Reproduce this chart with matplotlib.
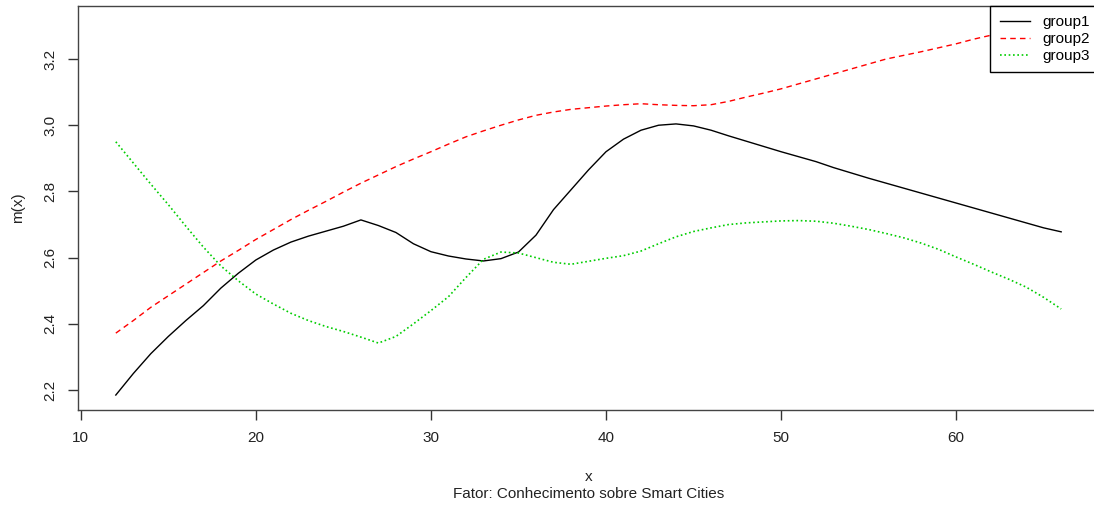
import matplotlib
matplotlib.use("Agg")
import matplotlib.pyplot as plt

plt.rcParams['font.family'] = ['Liberation Sans', 'DejaVu Sans']

# smoothed curves, one point per unit of x
x = list(range(12, 67))

group1 = [2.185, 2.25, 2.31, 2.362, 2.41, 2.455, 2.508, 2.553, 2.593, 2.623,
          2.647, 2.665, 2.68, 2.695, 2.714, 2.697, 2.676, 2.642, 2.618, 2.605,
          2.596, 2.59, 2.597, 2.617, 2.668, 2.745, 2.805, 2.865, 2.92, 2.958,
          2.985, 3.0, 3.004, 2.998, 2.985, 2.968, 2.952, 2.936, 2.92, 2.905,
          2.89, 2.872, 2.856, 2.84, 2.825, 2.81, 2.795, 2.78, 2.765, 2.75,
          2.735, 2.72, 2.705, 2.69, 2.678]

group2 = [2.372, 2.41, 2.45, 2.485, 2.52, 2.555, 2.59, 2.622, 2.655, 2.685,
          2.715, 2.743, 2.77, 2.798, 2.825, 2.85, 2.875, 2.898, 2.92, 2.943,
          2.965, 2.983, 3.0, 3.016, 3.03, 3.04, 3.048, 3.053, 3.058, 3.062,
          3.065, 3.062, 3.06, 3.059, 3.062, 3.072, 3.085, 3.097, 3.11, 3.125,
          3.14, 3.155, 3.17, 3.185, 3.2, 3.211, 3.222, 3.234, 3.246, 3.26,
          3.272, 3.284, 3.295, 3.305, 3.315]

group3 = [2.95, 2.886, 2.822, 2.76, 2.695, 2.632, 2.575, 2.53, 2.49, 2.46,
          2.432, 2.41, 2.392, 2.377, 2.36, 2.342, 2.362, 2.40, 2.44, 2.482,
          2.54, 2.595, 2.617, 2.614, 2.60, 2.586, 2.58, 2.589, 2.598, 2.606,
          2.62, 2.642, 2.663, 2.679, 2.69, 2.70, 2.705, 2.708, 2.711, 2.712,
          2.71, 2.704, 2.695, 2.685, 2.673, 2.66, 2.644, 2.625, 2.602, 2.58,
          2.557, 2.535, 2.511, 2.48, 2.445]

labels = ["group1", "group2", "group3"]
xticks = [10, 20, 30, 40, 50, 60]
yticks = [2.2, 2.4, 2.6, 2.8, 3.0, 3.2]

W, H = 1094, 507
fig = plt.figure(figsize=(W / 100, H / 100), dpi=100)
ax = fig.add_axes([78 / W, 97 / H, (1099 - 78) / W, 404 / H])

ax.plot(x, group1, color='black', lw=1.0, label=labels[0])
ax.plot(x, group2, color='#FF0000', lw=1.0, dashes=(4, 3), label=labels[1])
ax.plot(x, group3, color='#00CD00', lw=1.2, dashes=(1, 1.6), label=labels[2])

# R style 4% padding around the data
xmin, xmax = 12, 66
ymin = min(min(group1), min(group2), min(group3))
ymax = max(max(group1), max(group2), max(group3))
ax.set_xlim(xmin - 0.04 * (xmax - xmin), xmax + 0.04 * (xmax - xmin))
ax.set_ylim(ymin - 0.04 * (ymax - ymin), ymax + 0.04 * (ymax - ymin))

ax.set_xticks(xticks)
ax.set_xticklabels([str(t) for t in xticks])
ax.set_yticks(yticks)
ax.set_yticklabels(["%.1f" % t for t in yticks], rotation=90, va='center')
ax.tick_params(axis='both', length=7, width=1, colors='#333333',
               labelsize=11, labelcolor='#222222', pad=8)

for s in ax.spines.values():
    s.set_color('#444444')
    s.set_linewidth(1.0)

cx = (78 + 1099) / 2 / W
fig.text(cx, 1 - 477 / H, "x", ha='center', va='center', fontsize=11, color='#222222')
fig.text(cx, 1 - 494 / H, "Fator: Conhecimento sobre Smart Cities",
         ha='center', va='center', fontsize=11, color='#222222')
fig.text(18 / W, 1 - 208 / H, "m(x)", rotation=90, ha='center', va='center',
         fontsize=11, color='#222222')

leg = ax.legend(loc='upper right', borderaxespad=0, fancybox=False,
                framealpha=1, edgecolor='black', fontsize=11,
                handlelength=2.0, handletextpad=0.8, labelspacing=0.2,
                borderpad=0.6)
leg.get_frame().set_linewidth(1.0)

fig.savefig("out.png", dpi=100)
